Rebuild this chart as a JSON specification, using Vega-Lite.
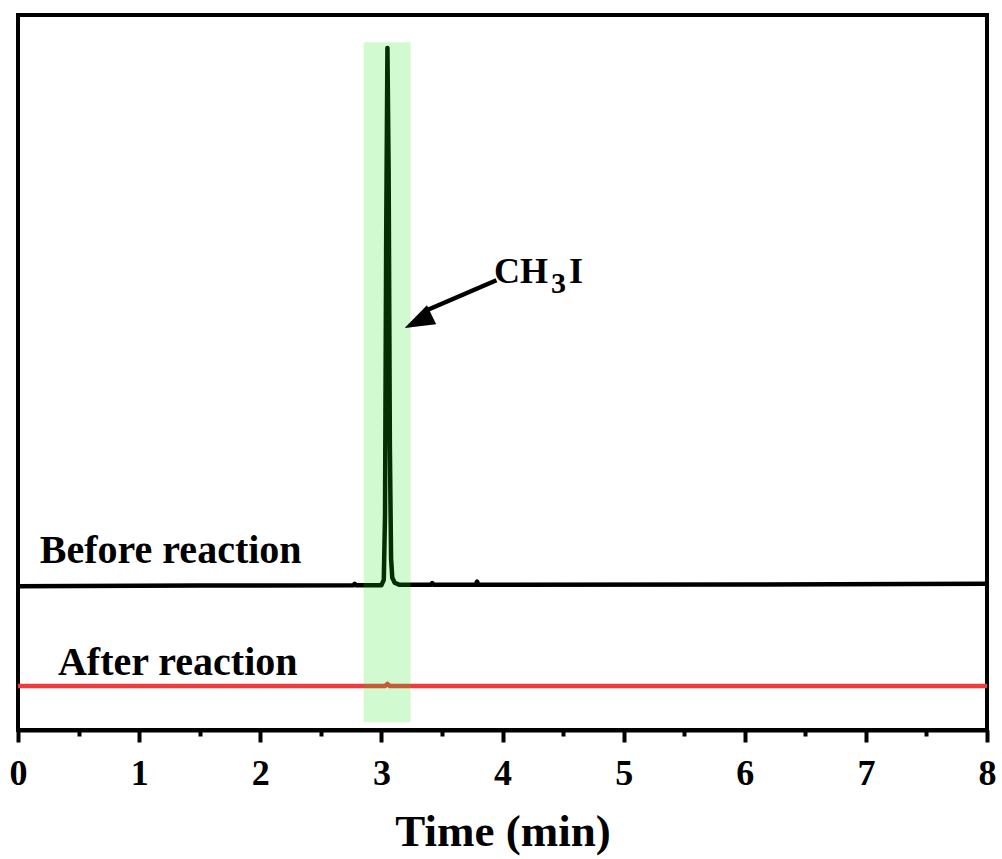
{
  "$schema": "https://vega.github.io/schema/vega-lite/v6.json",
  "width": 969,
  "height": 715,
  "autosize": {"type": "none"},
  "padding": {"left": 18, "top": 15, "right": 15, "bottom": 129},
  "background": "white",
  "config": {
    "view": {"stroke": "black", "strokeWidth": 4},
    "font": "Liberation Serif"
  },
  "datasets": {
    "lines": [
      {"t": 0, "v": 20.1, "s": "before"},
      {"t": 1.5, "v": 20.2, "s": "before"},
      {"t": 2.77, "v": 20.25, "s": "before"},
      {"t": 2.78, "v": 20.45, "s": "before"},
      {"t": 2.79, "v": 20.25, "s": "before"},
      {"t": 3.0, "v": 20.25, "s": "before"},
      {"t": 3.02, "v": 21.0, "s": "before"},
      {"t": 3.03, "v": 30, "s": "before"},
      {"t": 3.04, "v": 70, "s": "before"},
      {"t": 3.05, "v": 95.4, "s": "before"},
      {"t": 3.06, "v": 78, "s": "before"},
      {"t": 3.07, "v": 40, "s": "before"},
      {"t": 3.08, "v": 24, "s": "before"},
      {"t": 3.09, "v": 21.3, "s": "before"},
      {"t": 3.11, "v": 20.6, "s": "before"},
      {"t": 3.15, "v": 20.3, "s": "before"},
      {"t": 3.41, "v": 20.3, "s": "before"},
      {"t": 3.42, "v": 20.55, "s": "before"},
      {"t": 3.43, "v": 20.3, "s": "before"},
      {"t": 3.78, "v": 20.3, "s": "before"},
      {"t": 3.79, "v": 20.75, "s": "before"},
      {"t": 3.8, "v": 20.3, "s": "before"},
      {"t": 6, "v": 20.35, "s": "before"},
      {"t": 8, "v": 20.45, "s": "before"},
      {"t": 0, "v": 6.15, "s": "after"},
      {"t": 3.03, "v": 6.15, "s": "after"},
      {"t": 3.05, "v": 6.45, "s": "after"},
      {"t": 3.07, "v": 6.15, "s": "after"},
      {"t": 8, "v": 6.15, "s": "after"}
    ],
    "band": [{"t1": 2.854, "t2": 3.241, "v1": 1.1, "v2": 96.2}],
    "labels": [
      {"t": 0.18, "v": 23.4, "text": "Before reaction", "size": 40},
      {"t": 0.33, "v": 7.7, "text": "After reaction", "size": 40},
      {"t": 3.93, "v": 62.5, "text": "CH", "size": 36},
      {"t": 4.4, "v": 61.1, "text": "3", "size": 30},
      {"t": 4.55, "v": 62.5, "text": "I", "size": 36}
    ],
    "arrow": [{"t1": 3.95, "v1": 62.9, "t2": 3.36, "v2": 58.6}],
    "head": [{"t": 3.303, "v": 57.15}],
    "minor": [{"t": 0.5}]
  },
  "resolve": {"axis": {"x": "independent"}},
  "layer": [
    {
      "data": {"name": "lines"},
      "mark": {"type": "line", "strokeWidth": 4.5, "strokeJoin": "round"},
      "encoding": {
        "x": {"field": "t", "type": "quantitative", "scale": {"domain": [0, 8], "nice": false},
          "axis": {
            "values": [0, 1, 2, 3, 4, 5, 6, 7, 8],
            "title": "Time (min)",
            "grid": false,
            "domainColor": "black", "domainWidth": 4,
            "tickColor": "black", "tickWidth": 4, "tickSize": 12,
            "labelFont": "Liberation Serif", "labelFontWeight": "bold", "labelFontSize": 36,
            "labelColor": "black", "labelPadding": 14, "labelFlush": false,
            "titleFont": "Liberation Serif", "titleFontWeight": "bold", "titleFontSize": 45,
            "titleColor": "black", "titlePadding": 18
          }},
        "y": {"field": "v", "type": "quantitative", "scale": {"domain": [0, 100], "nice": false}, "axis": null},
        "color": {"field": "s", "type": "nominal", "scale": {"domain": ["before", "after"], "range": ["#000000", "#EF3B3B"]}, "legend": null},
        "detail": {"field": "s"}
      }
    },
    {
      "data": {"name": "minor"},
      "mark": {"type": "point", "opacity": 0},
      "encoding": {
        "x": {"field": "t", "type": "quantitative",
          "axis": {
            "orient": "bottom",
            "values": [0.5, 1.5, 2.5, 3.5, 4.5, 5.5, 6.5, 7.5],
            "labels": false, "domain": false, "grid": false, "title": null,
            "tickColor": "black", "tickWidth": 4, "tickSize": 6
          }},
        "y": {"value": 0}
      }
    },
    {
      "data": {"name": "band"},
      "mark": {"type": "rect", "color": "#19E619", "opacity": 0.2},
      "encoding": {
        "x": {"field": "t1", "type": "quantitative", "axis": null},
        "x2": {"field": "t2"},
        "y": {"field": "v1", "type": "quantitative", "axis": null},
        "y2": {"field": "v2"}
      }
    },
    {
      "data": {"name": "labels"},
      "mark": {"type": "text", "align": "left", "baseline": "alphabetic", "font": "Liberation Serif", "fontWeight": "bold", "color": "black"},
      "encoding": {
        "x": {"field": "t", "type": "quantitative", "axis": null},
        "y": {"field": "v", "type": "quantitative", "axis": null},
        "text": {"field": "text"},
        "size": {"field": "size", "type": "quantitative", "scale": null}
      }
    },
    {
      "data": {"name": "arrow"},
      "mark": {"type": "rule", "strokeWidth": 4.5, "color": "black"},
      "encoding": {
        "x": {"field": "t1", "type": "quantitative", "axis": null},
        "y": {"field": "v1", "type": "quantitative", "axis": null},
        "x2": {"field": "t2"},
        "y2": {"field": "v2"}
      }
    },
    {
      "data": {"name": "head"},
      "mark": {"type": "point", "shape": "M0,-1L-0.7,1L0.7,1Z", "filled": true, "color": "black", "opacity": 1, "size": 900, "angle": 244},
      "encoding": {
        "x": {"field": "t", "type": "quantitative", "axis": null},
        "y": {"field": "v", "type": "quantitative", "axis": null}
      }
    }
  ]
}
